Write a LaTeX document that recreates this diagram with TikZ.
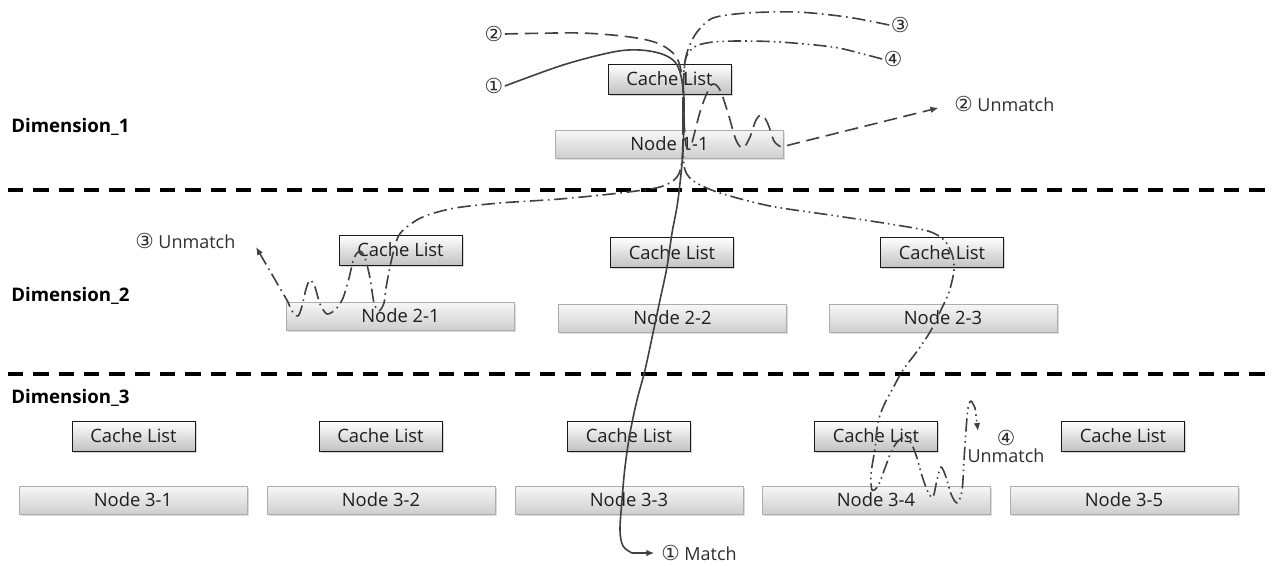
\documentclass[tikz,border=0pt]{standalone}
\usepackage{fontspec}
\setmainfont{Open Sans}
\newfontfamily\symf{DejaVu Sans}
\usetikzlibrary{shadows,arrows.meta}
\definecolor{ln}{HTML}{404040}
\definecolor{txt}{HTML}{2E2E2E}
\newcommand{\cn}[1]{{\symf\fontsize{15.5}{12}\selectfont #1}}
\begin{document}
\begin{tikzpicture}[x=0.75pt,y=-0.75pt,
  cache/.style={draw=black!90, line width=0.75pt, top color=white, bottom color=black!24,
    minimum width=92.25pt, minimum height=22.5pt, inner sep=0pt,
    font=\fontsize{13.8}{14}\selectfont, text=black!88,
    drop shadow={shadow xshift=1.2pt, shadow yshift=-1.2pt, fill=black!45, opacity=0.35}},
  nodebox/.style={draw=black!32, line width=0.75pt, top color=black!3, bottom color=black!19,
    minimum width=171pt, minimum height=21pt, inner sep=0pt,
    font=\fontsize{13.8}{14}\selectfont, text=black!88,
    drop shadow={shadow xshift=1.2pt, shadow yshift=-1.2pt, fill=black!45, opacity=0.3}},
  dim/.style={anchor=west, inner sep=0pt, font=\bfseries\fontsize{14}{14}\selectfont},
  num/.style={inner sep=1pt, font=\symf\fontsize{15.5}{12}\selectfont, text=txt},
  lbl/.style={anchor=west, inner sep=0pt, font=\fontsize{13.5}{14}\selectfont, text=txt},
  sep/.style={line width=2.4pt, dash pattern=on 11.5pt off 7.5pt},
  conn/.style={line width=1.2pt, draw=ln, line join=round},
  tipa/.style={-{Latex[length=6pt,width=5pt]}},
  dsh/.style={dash pattern=on 10pt off 5pt},
  dd/.style={dash pattern=on 10pt off 3.5pt on 1.2pt off 3.5pt},
  ddd/.style={dash pattern=on 10pt off 3pt on 1.2pt off 3pt on 1.2pt off 3pt}
]
\useasboundingbox (0,0) rectangle (1276,565);

% separators
\draw[sep] (8,190) -- (1272,190);
\draw[sep] (8,374) -- (1272,374);

% dimension labels
\node[dim] (d1) at (11,127) {Dimension\_1};
\node[dim] (d2) at (11,296) {Dimension\_2};
\node[dim] (d3) at (11,398) {Dimension\_3};

% Dimension 1
\node[cache] (c11) at (669.5,79) {Cache List};
\node[nodebox] (n11) at (669.5,144) {Node 1-1};

% Dimension 2
\node[cache] (c21) at (400.5,250) {Cache List};
\node[nodebox] (n21) at (400.5,316) {Node 2-1};
\node[cache] (c22) at (672,252.5) {Cache List};
\node[nodebox] (n22) at (672.5,318) {Node 2-2};
\node[cache] (c23) at (942,252.5) {Cache List};
\node[nodebox] (n23) at (943,318) {Node 2-3};

% Dimension 3
\node[cache] (c31) at (133.5,436) {Cache List};
\node[cache] (c32) at (380.5,436) {Cache List};
\node[cache] (c33) at (629,436) {Cache List};
\node[cache] (c34) at (876,436) {Cache List};
\node[cache] (c35) at (1123,436) {Cache List};
\node[nodebox] (n31) at (133,500) {Node 3-1};
\node[nodebox] (n32) at (381,500) {Node 3-2};
\node[nodebox] (n33) at (629,500) {Node 3-3};
\node[nodebox] (n34) at (876,500) {Node 3-4};
\node[nodebox] (n35) at (1124,500) {Node 3-5};

% start labels
\node[num] (s1) at (494,86) {①};
\node[num] (s2) at (494,34) {②};
\node[num] (s3) at (900,25) {③};
\node[num] (s4) at (893,59) {④};

% end labels
\node[lbl] (m1) at (661,553) {\cn{①} Match};
\node[lbl] (u2) at (954,104) {\cn{②} Unmatch};
\node[lbl] (u3) at (135,241) {\cn{③} Unmatch};
\node[lbl, anchor=center, align=center, font=\fontsize{13.5}{12.8}\selectfont] (u4) at (1006,446) {\cn{④}\\Unmatch};
\coordinate (t3) at (256,247);
\coordinate (t4) at (978,431);

% path 1: match (solid)
\draw[conn, tipa, shorten >=5pt] plot[smooth, tension=0.55] coordinates {(s1.east) (563,65) (613,52) (640,50) (662,54) (675,62) (681,76) (684,100) (683,150) (678,200) (672,233) (667,267) (660,300) (653,333) (645,370) (637,400) (630,433) (625,467) (622,500) (620,530) (623,546) (632,553)} -- (m1.west);

% path 2: unmatch in dimension 1 (dashed)
\draw[conn, dsh, tipa, shorten >=12pt] plot[smooth, tension=0.55] coordinates {(s2.east) (580,33) (630,37) (657,43) (673,53) (680,66) (683,90) (684,120) (686,145) (690,149) (694,135) (700,112) (707,93) (713,84) (720,90) (728,113) (736,140) (743,148) (750,137) (756,120) (762,115) (768,124) (774,141) (781,147)} -- (u2.west);

% path 3: unmatch in dimension 2 (dash dot)
\draw[conn, dd, tipa] plot[smooth, tension=0.5] coordinates {(s3.west) (847,17) (797,12) (747,13) (713,18) (697,32) (689,47) (685,62) (683,95) (683,130) (682,160) (677,177) (660,187) (620,193) (560,199) (500,203) (455,208) (425,216) (408,226) (398,237) (391,262) (386,288) (384,303) (379,311) (374,303) (370,278) (365,258) (360,251) (354,258) (349,278) (343,298) (336,309) (327,314) (320,304) (315,287) (310,280) (306,289) (302,306) (298,316) (292,311) (288,302)} -- (t3);

% path 4: unmatch in dimension 3 (dash dot dot)
\draw[conn, ddd, tipa] plot[smooth, tension=0.5] coordinates {(s4.west) (863,54) (833,47) (780,42) (740,41) (713,42) (696,46) (687,55) (684,70) (683,105) (683,145) (685,170) (695,182) (720,193) (770,206) (830,215) (890,224) (928,231) (944,240) (952,254) (954,270) (949,292) (940,312) (930,332) (918,350) (903,370) (893,388) (884,405) (878,422) (875,448) (871,474) (872,490) (878,486) (885,468) (891,452) (898,441) (906,437) (912,445) (917,458) (922,476) (928,492) (933,497) (937,480) (941,467) (946,477) (951,494) (957,503) (962,491) (964,460) (966,430) (968,408) (971,401) (975,408)} -- (t4);
\end{tikzpicture}
\end{document}
